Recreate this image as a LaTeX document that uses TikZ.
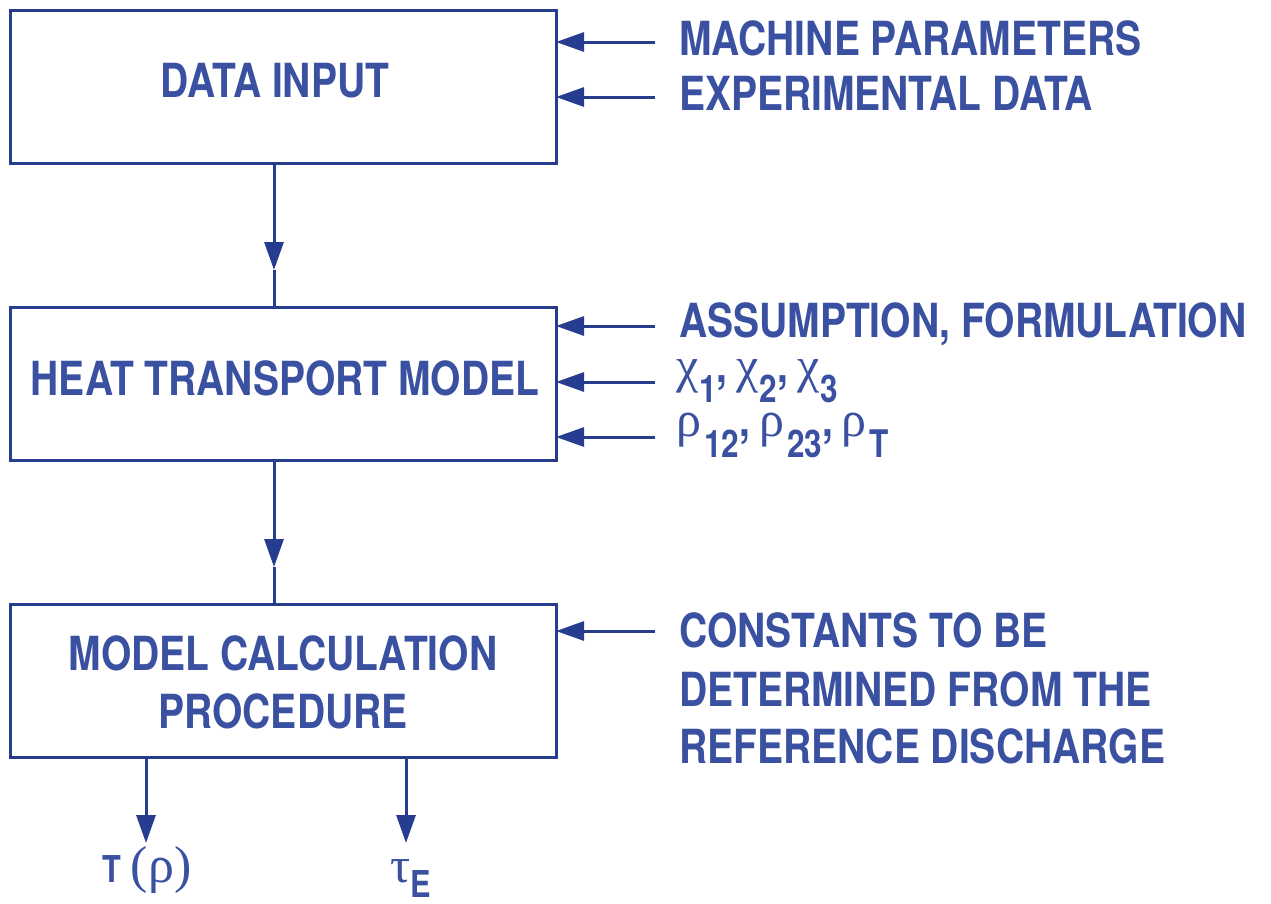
\documentclass[tikz,border=0pt]{standalone}
\usepackage{fontspec}
\setmainfont{TeX Gyre Heros}[FakeStretch=0.83]
\newfontfamily\gk{Liberation Serif}
\usetikzlibrary{arrows.meta}
\definecolor{boxc}{RGB}{38,60,142}
\definecolor{txtc}{RGB}{58,80,160}
\newcommand{\gkl}[2]{{\gk\mdseries\fontsize{#1}{#1}\selectfont #2}}
\newcommand{\chisub}[1]{\gkl{50}{χ}\kern1pt\raisebox{-20pt}{\fontsize{38}{38}\selectfont #1}}
\newcommand{\rhosub}[1]{\gkl{50}{ρ}\kern3pt\raisebox{-21pt}{\fontsize{38}{38}\selectfont #1}}
\begin{document}
\begin{tikzpicture}[x=1pt,y=-1pt,
  blk/.style={draw=boxc,line width=3pt,minimum width=546pt,minimum height=153pt,inner sep=0pt,outer sep=0pt},
  lbl/.style={text=txtc,inner sep=0pt,font=\fontsize{47}{56}\selectfont\bfseries},
  small/.style={text=txtc,inner sep=0pt,font=\fontsize{37}{40}\selectfont\bfseries},
  arr/.style={draw=boxc,line width=3pt,-{Triangle[length=28pt,width=19pt]}},
  ln/.style={draw=boxc,line width=3pt}]
\useasboundingbox (0,0) rectangle (1271,903);

% boxes
\node[blk] (b1) at (283,86.5) {};
\node[blk] (b2) at (283,384) {};
\node[blk] (b3) at (283,680.5) {};

% box texts
\node[lbl,anchor=base] (l1) at (275,97) {DATA INPUT};
\node[lbl,anchor=base] (l2) at (285,395) {HEAT TRANSPORT MODEL};
\node[lbl,anchor=base] (l3a) at (283,670) {MODEL CALCULATION};
\node[lbl,anchor=base] (l3b) at (283,728) {PROCEDURE};

% right texts
\node[lbl,anchor=base west] (t1) at (679,55) {MACHINE PARAMETERS};
\node[lbl,anchor=base west] (t2) at (679,110) {EXPERIMENTAL DATA};
\node[lbl,anchor=base west] (t3) at (679,337) {ASSUMPTION, FORMULATION};
\node[lbl,anchor=base west] (t4) at (676,382) {\chisub{1},\kern9pt\chisub{2},\kern9pt\chisub{3}};
\node[lbl,anchor=base west] (t5) at (676,436) {\rhosub{12},\kern9pt\rhosub{23},\kern9pt\rhosub{T}};
\node[lbl,anchor=base west] (t6) at (679,647) {CONSTANTS TO BE};
\node[lbl,anchor=base west] (t7) at (679,706) {DETERMINED FROM THE};
\node[lbl,anchor=base west] (t8) at (679,763) {REFERENCE DISCHARGE};

% bottom outputs
\node[small,anchor=base west] (o1) at (102,882) {T\kern10pt\gkl{52}{(ρ)}};
\node[small,anchor=base west] (o2) at (390,882) {\gkl{50}{τ}\raisebox{-15pt}{E}};

% input arrow start points
\coordinate (s1) at (655,42);
\coordinate (s2) at (655,97);
\coordinate (s3) at (655,326);
\coordinate (s4) at (655,382);
\coordinate (s5) at (655,437);
\coordinate (s6) at (655,631);

\draw[arr] (s1) -- (s1 -| b1.east);
\draw[arr] (s2) -- (s2 -| b1.east);
\draw[arr] (s3) -- (s3 -| b2.east);
\draw[arr] (s4) -- (s4 -| b2.east);
\draw[arr] (s5) -- (s5 -| b2.east);
\draw[arr] (s6) -- (s6 -| b3.east);

% vertical flow arrows
\coordinate (m1) at (274,270);
\coordinate (m2) at (274,567);
\draw[arr] (m1 |- b1.south) -- (m1);
\draw[ln] (m1) -- (m1 |- b2.north);
\draw[arr] (m2 |- b2.south) -- (m2);
\draw[ln] (m2) -- (m2 |- b3.north);

% output arrows
\coordinate (e1) at (146,843);
\coordinate (e2) at (406,843);
\draw[arr] (e1 |- b3.south) -- (e1);
\draw[arr] (e2 |- b3.south) -- (e2);
\end{tikzpicture}
\end{document}
